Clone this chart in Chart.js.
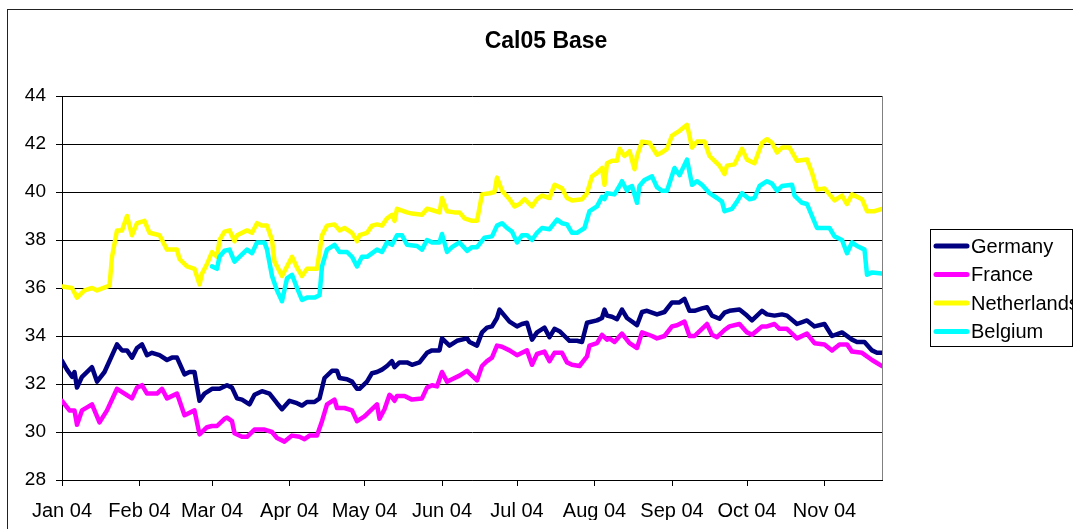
<!DOCTYPE html>
<html>
<head>
<meta charset="utf-8">
<script src="https://cdn.jsdelivr.net/npm/chart.js@4.4.0/dist/chart.umd.min.js"></script>
<style>
  body { margin: 0; background: #fff; overflow: hidden; }
  #moldura { position: absolute; left: 7px; top: 9px; width: 1200px; height: 700px; border: 1px solid #222; }
  #grafico { position: absolute; left: 0; top: 0; }
</style>
</head>
<body>
<div id="moldura"></div>
<canvas id="grafico" width="1073" height="529"></canvas>
<script>
// ---- dados (dias contados a partir de 1 Jan 2004)

const tituloGrafico = 'Cal05 Base';

const mesesInicio = [0, 31, 60, 91, 121, 152, 182, 213, 244, 274, 305];
const mesesLabels = ['Jan 04', 'Feb 04', 'Mar 04', 'Apr 04', 'May 04', 'Jun 04', 'Jul 04', 'Aug 04', 'Sep 04', 'Oct 04', 'Nov 04'];
const diaFinal = 328;

const germanyDays = [0, 2, 4, 5, 6, 8, 12, 14, 17, 22, 24, 26, 28, 30, 32, 34, 36, 39, 42, 44, 46, 49, 51, 53, 55, 57, 60, 63, 66, 68, 70, 72, 75, 77, 80, 83, 86, 88, 91, 94, 96, 98, 101, 103, 105, 108, 110, 111, 114, 116, 118, 119, 122, 124, 126, 128, 130, 132, 133, 135, 138, 140, 143, 146, 148, 151, 152, 155, 158, 162, 163, 166, 168, 170, 172, 174, 175, 177, 179, 182, 184, 186, 188, 190, 193, 195, 197, 199, 201, 203, 206, 208, 210, 214, 216, 217, 218, 220, 222, 224, 226, 230, 232, 234, 238, 241, 244, 247, 249, 251, 253, 256, 258, 260, 263, 265, 267, 271, 274, 276, 280, 282, 285, 288, 290, 294, 298, 301, 305, 308, 312, 316, 318, 321, 324, 326, 328];
const germanyValues = [32.96, 32.6, 32.3, 32.5, 31.85, 32.3, 32.7, 32.1, 32.5, 33.65, 33.4, 33.4, 33.1, 33.5, 33.65, 33.2, 33.3, 33.2, 33.0, 33.1, 33.1, 32.4, 32.5, 32.5, 31.3, 31.6, 31.8, 31.8, 31.95, 31.85, 31.4, 31.35, 31.15, 31.55, 31.7, 31.6, 31.2, 30.95, 31.3, 31.2, 31.1, 31.25, 31.25, 31.4, 32.25, 32.55, 32.55, 32.25, 32.2, 32.1, 31.8, 31.8, 32.1, 32.45, 32.5, 32.6, 32.75, 32.95, 32.7, 32.9, 32.9, 32.8, 32.9, 33.3, 33.4, 33.4, 33.9, 33.6, 33.8, 33.9, 33.75, 33.6, 34.15, 34.35, 34.4, 34.75, 35.1, 34.85, 34.6, 34.4, 34.5, 34.55, 33.85, 34.15, 34.35, 33.95, 34.3, 34.2, 34.0, 33.8, 33.8, 33.75, 34.55, 34.65, 34.75, 35.1, 34.85, 34.8, 34.7, 35.1, 34.75, 34.45, 35.0, 35.05, 34.9, 35.0, 35.4, 35.4, 35.55, 35.05, 35.05, 35.15, 35.2, 34.85, 34.72, 34.97, 35.05, 35.1, 34.85, 34.65, 35.05, 34.9, 34.85, 34.9, 34.85, 34.5, 34.65, 34.4, 34.5, 34.0, 34.15, 33.85, 33.75, 33.75, 33.4, 33.3, 33.3];

const franceDays = [0, 3, 5, 6, 8, 12, 15, 18, 22, 25, 28, 30, 32, 34, 38, 40, 42, 46, 49, 53, 55, 58, 60, 62, 65, 66, 68, 69, 72, 74, 77, 81, 84, 86, 89, 92, 95, 97, 99, 102, 104, 106, 109, 110, 113, 116, 118, 121, 124, 126, 127, 129, 131, 132, 133, 134, 137, 140, 144, 146, 148, 150, 152, 154, 156, 159, 162, 166, 168, 170, 172, 174, 176, 179, 182, 184, 186, 188, 190, 193, 195, 197, 200, 202, 204, 207, 210, 211, 214, 216, 218, 219, 221, 224, 227, 230, 232, 236, 238, 241, 244, 246, 249, 251, 253, 256, 258, 260, 262, 265, 267, 271, 274, 276, 280, 282, 285, 287, 290, 294, 298, 301, 305, 308, 311, 314, 316, 320, 324, 328];
const franceValues = [31.3, 30.9, 30.9, 30.3, 30.9, 31.15, 30.4, 30.9, 31.8, 31.6, 31.4, 31.85, 31.95, 31.6, 31.6, 31.8, 31.4, 31.6, 30.7, 30.9, 29.9, 30.2, 30.25, 30.25, 30.55, 30.6, 30.45, 29.95, 29.8, 29.8, 30.1, 30.1, 30.0, 29.75, 29.6, 29.85, 29.8, 29.7, 29.85, 29.85, 30.45, 31.15, 31.35, 31.0, 31.0, 30.9, 30.45, 30.65, 30.95, 31.15, 30.55, 30.95, 31.55, 31.45, 31.3, 31.5, 31.5, 31.35, 31.4, 31.85, 31.95, 31.9, 32.5, 32.1, 32.2, 32.35, 32.55, 32.15, 32.75, 32.95, 33.1, 33.6, 33.55, 33.4, 33.2, 33.3, 33.4, 32.8, 33.25, 33.35, 32.95, 33.3, 33.3, 32.9, 32.8, 32.75, 33.15, 33.6, 33.7, 34.05, 33.85, 33.9, 33.75, 34.1, 33.7, 33.5, 34.15, 34.0, 33.9, 34.0, 34.4, 34.45, 34.6, 34.0, 34.0, 34.3, 34.5, 34.05, 33.95, 34.25, 34.4, 34.5, 34.15, 34.05, 34.4, 34.4, 34.5, 34.3, 34.3, 33.9, 34.1, 33.7, 33.65, 33.4, 33.65, 33.65, 33.35, 33.3, 33.0, 32.75];

const netherlandsDays = [0, 4, 6, 9, 12, 14, 19, 20, 22, 24, 26, 28, 30, 33, 35, 39, 42, 46, 47, 50, 53, 55, 56, 58, 60, 62, 63, 65, 67, 69, 70, 74, 76, 78, 80, 82, 84, 85, 88, 92, 94, 96, 98, 102, 104, 106, 109, 111, 113, 116, 118, 119, 122, 124, 126, 128, 130, 132, 133, 134, 138, 140, 144, 146, 148, 151, 152, 154, 157, 159, 161, 164, 166, 168, 171, 173, 174, 176, 179, 181, 183, 185, 188, 190, 192, 195, 197, 200, 202, 204, 208, 210, 212, 214, 216, 217, 218, 220, 222, 223, 225, 227, 229, 230, 232, 235, 238, 240, 242, 244, 247, 250, 252, 254, 257, 259, 261, 263, 265, 266, 269, 272, 274, 277, 280, 282, 284, 286, 288, 291, 294, 298, 300, 302, 305, 309, 312, 314, 316, 320, 322, 325, 328];
const netherlandsValues = [36.06, 36.0, 35.6, 35.9, 36.0, 35.9, 36.1, 37.3, 38.4, 38.4, 39.0, 38.2, 38.7, 38.8, 38.3, 38.2, 37.6, 37.6, 37.2, 36.9, 36.8, 36.15, 36.6, 37.0, 37.5, 37.3, 38.0, 38.35, 38.4, 37.95, 38.2, 38.4, 38.3, 38.7, 38.6, 38.6, 38.0, 37.1, 36.5, 37.3, 36.85, 36.5, 36.8, 36.8, 38.2, 38.6, 38.65, 38.4, 38.5, 38.3, 37.95, 38.2, 38.3, 38.6, 38.65, 38.6, 38.9, 39.05, 38.8, 39.3, 39.15, 39.1, 39.05, 39.3, 39.25, 39.15, 39.75, 39.2, 39.15, 39.15, 38.9, 38.8, 38.8, 39.9, 39.95, 40.0, 40.6, 40.05, 39.7, 39.4, 39.5, 39.7, 39.4, 39.7, 39.85, 39.75, 40.3, 40.15, 39.75, 39.65, 39.7, 39.95, 40.65, 40.8, 41.0, 40.3, 41.2, 41.3, 41.3, 41.8, 41.5, 41.7, 40.95, 41.5, 42.1, 42.05, 41.55, 41.65, 41.8, 42.35, 42.55, 42.8, 41.85, 42.1, 42.1, 41.5, 41.3, 41.1, 40.75, 41.1, 41.15, 41.8, 41.35, 41.2, 42.05, 42.2, 42.05, 41.65, 41.85, 41.85, 41.3, 41.35, 40.8, 40.1, 40.15, 39.65, 39.85, 39.5, 39.9, 39.7, 39.2, 39.2, 39.3];

const belgiumDays = [60, 62, 63, 65, 67, 69, 72, 74, 76, 78, 81, 82, 84, 86, 88, 90, 92, 94, 96, 98, 101, 103, 104, 106, 109, 111, 114, 116, 118, 120, 122, 126, 128, 130, 132, 134, 136, 138, 142, 144, 146, 148, 151, 152, 154, 156, 159, 162, 164, 166, 169, 172, 174, 176, 178, 180, 182, 184, 186, 188, 190, 192, 195, 198, 200, 202, 204, 206, 209, 211, 214, 216, 217, 218, 221, 223, 224, 226, 227, 228, 230, 231, 233, 236, 238, 240, 242, 245, 247, 250, 252, 254, 256, 259, 262, 264, 265, 268, 270, 272, 275, 277, 279, 282, 284, 286, 288, 292, 293, 296, 298, 300, 302, 307, 309, 312, 314, 316, 318, 321, 322, 324, 328];
const belgiumValues = [36.9, 36.8, 37.3, 37.55, 37.6, 37.1, 37.4, 37.6, 37.45, 37.9, 37.9, 37.6, 36.5, 35.9, 35.45, 36.4, 36.55, 36.0, 35.5, 35.6, 35.6, 35.7, 36.9, 37.6, 37.8, 37.5, 37.5, 37.3, 36.9, 37.3, 37.3, 37.6, 37.5, 37.9, 37.8, 38.2, 38.2, 37.8, 37.75, 37.6, 38.0, 37.9, 37.9, 38.25, 37.5, 37.7, 37.9, 37.55, 37.7, 37.7, 38.1, 38.15, 38.6, 38.7, 38.5, 38.35, 37.9, 38.2, 38.2, 38.0, 38.3, 38.5, 38.45, 38.85, 38.7, 38.65, 38.3, 38.3, 38.5, 39.2, 39.4, 39.8, 39.7, 39.95, 39.9, 40.25, 40.45, 40.05, 40.2, 40.25, 39.55, 40.25, 40.5, 40.65, 40.2, 40.05, 40.05, 41.0, 40.7, 41.35, 40.3, 40.45, 40.3, 39.95, 39.75, 39.6, 39.2, 39.3, 39.6, 39.95, 39.7, 39.75, 40.25, 40.45, 40.35, 40.05, 40.25, 40.3, 39.85, 39.55, 39.5, 39.0, 38.5, 38.5, 38.15, 38.0, 37.45, 37.9, 37.75, 37.6, 36.55, 36.65, 36.6];

// monta pares {x, y} para o Chart.js
function montarPontos(dias, valores) {
    return dias.map((d, i) => ({ x: d, y: valores[i] }));
}

const fonteTexto = '"Liberation Sans", Arial, sans-serif';

// ---- plugin: título centralizado e legenda com caixa à direita

const pluginTituloLegenda = {
    id: 'tituloLegenda',
    afterDraw(chart) {
        const ctx = chart.ctx;
        ctx.save();

        // título
        ctx.fillStyle = '#000';
        ctx.font = 'bold 23px ' + fonteTexto;
        ctx.textAlign = 'center';
        ctx.textBaseline = 'middle';
        ctx.fillText(tituloGrafico, 546, 42);

        // borda direita da área do gráfico
        const area = chart.chartArea;
        ctx.strokeStyle = '#808080';
        ctx.lineWidth = 1;
        ctx.beginPath();
        ctx.moveTo(Math.round(area.right) + 0.5, area.top);
        ctx.lineTo(Math.round(area.right) + 0.5, area.bottom);
        ctx.stroke();

        // legenda
        const caixa = { x: 930.5, y: 229.5, w: 142, h: 117 };
        ctx.fillStyle = '#fff';
        ctx.fillRect(caixa.x, caixa.y, caixa.w, caixa.h);
        ctx.strokeStyle = '#000';
        ctx.strokeRect(caixa.x, caixa.y, caixa.w, caixa.h);

        ctx.font = '20px ' + fonteTexto;
        ctx.textAlign = 'left';
        ctx.textBaseline = 'middle';
        chart.data.datasets.forEach((ds, i) => {
            const yLinha = 246 + i * 28.5;
            ctx.strokeStyle = ds.borderColor;
            ctx.lineWidth = 5;
            ctx.lineCap = 'round';
            ctx.beginPath();
            ctx.moveTo(936, yLinha);
            ctx.lineTo(967, yLinha);
            ctx.stroke();
            ctx.fillStyle = '#000';
            ctx.fillText(ds.label, 971, yLinha + 1);
        });

        ctx.restore();
    }
};

// ---- gráfico

const ctx = document.getElementById('grafico').getContext('2d');

const estiloLinha = {
    borderWidth: 4.5,
    pointRadius: 0,
    fill: false,
    tension: 0,
    borderJoinStyle: 'round',
    borderCapStyle: 'round'
};

let graficoCal05 = new Chart(ctx, {
    type: 'line',
    data: {
        datasets: [
            { label: 'Germany', data: montarPontos(germanyDays, germanyValues), borderColor: '#000080', order: 3, ...estiloLinha },
            { label: 'France', data: montarPontos(franceDays, franceValues), borderColor: '#FF00FF', order: 2, ...estiloLinha },
            { label: 'Netherlands', data: montarPontos(netherlandsDays, netherlandsValues), borderColor: '#FFFF00', order: 1, ...estiloLinha },
            { label: 'Belgium', data: montarPontos(belgiumDays, belgiumValues), borderColor: '#00FFFF', order: 0, ...estiloLinha }
        ]
    },
    options: {
        responsive: false,
        animation: false,
        layout: {
            padding: { top: 96, right: 191, bottom: 9, left: 0 }
        },
        plugins: {
            legend: { display: false },
            title: { display: false },
            tooltip: { enabled: false }
        },
        scales: {
            x: {
                type: 'linear',
                min: 0,
                max: diaFinal,
                afterBuildTicks: (scale) => {
                    scale.ticks = mesesInicio.map(v => ({ value: v }));
                },
                afterFit: (scale) => { scale.height = 40; },
                grid: {
                    drawOnChartArea: false,
                    drawTicks: true,
                    tickLength: 6,
                    tickColor: '#000'
                },
                border: { display: true, color: '#000', width: 1 },
                ticks: {
                    autoSkip: false,
                    maxRotation: 0,
                    padding: 13,
                    color: '#000',
                    font: { family: fonteTexto, size: 20 },
                    callback: (valor, indice) => mesesLabels[indice]
                }
            },
            y: {
                min: 28,
                max: 44,
                afterFit: (scale) => { scale.width = 62; },
                grid: {
                    color: '#000',
                    lineWidth: 1,
                    drawTicks: true,
                    tickLength: 6,
                    tickColor: '#000'
                },
                border: { display: true, color: '#000', width: 1 },
                ticks: {
                    stepSize: 2,
                    padding: 10,
                    color: '#000',
                    font: { family: fonteTexto, size: 19 }
                }
            }
        }
    },
    plugins: [pluginTituloLegenda]
});
</script>
</body>
</html>
